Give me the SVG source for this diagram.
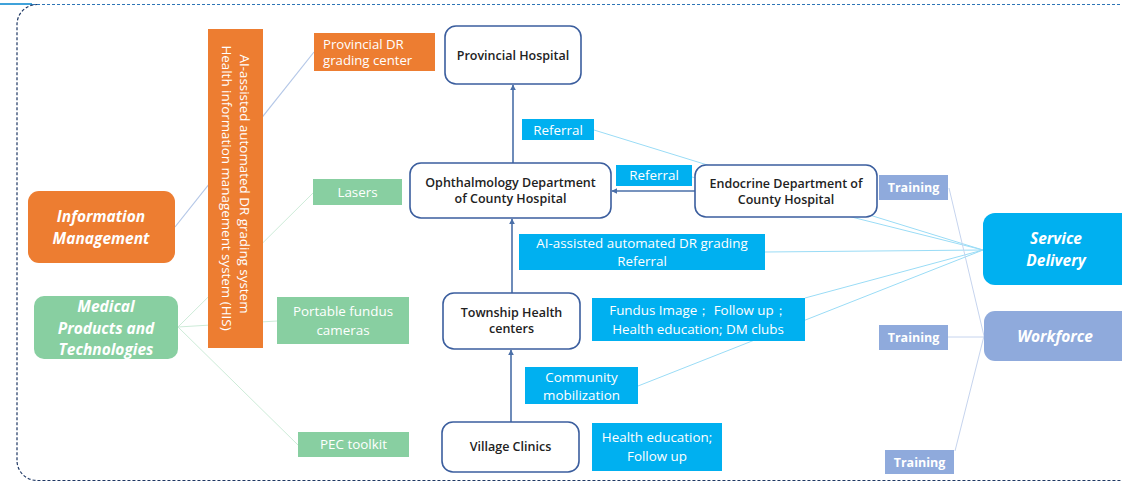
<svg xmlns="http://www.w3.org/2000/svg" width="1122" height="483" viewBox="0 0 1122 483">
<style>
text{font-family:"Open Sans","Noto Sans","Liberation Sans",sans-serif}
.node{fill:#fff;stroke:#3B5E9E;stroke-width:1.6}
.nt{font-size:12.5px;font-weight:600;fill:#222;text-anchor:middle}
.blue{fill:#00B0F0}
.orange{fill:#ED7D31}
.green{fill:#88CFA1}
.lav{fill:#8FAADC}
.wt{font-size:13.4px;fill:#fff;text-anchor:middle}
.wtl{font-size:13.2px;fill:#fff}
.tr{font-size:12.5px;fill:#fff;font-weight:700;text-anchor:middle}
.cat{font-size:15.5px;fill:#fff;font-weight:700;font-style:italic;text-anchor:middle}
.arrow{stroke:#4A6FA8;stroke-width:1.6;fill:none;marker-end:url(#ah)}
.lsd{stroke:#9ADCF6;stroke-width:1;fill:none}
.lwf{stroke:#C6D4EE;stroke-width:1;fill:none}
.lmp{stroke:#CDEBD8;stroke-width:1;fill:none}
.lim{stroke:#B4C7E7;stroke-width:1.2;fill:none}
</style>
<defs>
<marker id="ah" viewBox="0 0 10 10" refX="9" refY="5" markerWidth="6" markerHeight="6" orient="auto" markerUnits="userSpaceOnUse">
<path d="M0,0 L10,5 L0,10 z" fill="#4A6FA8"/>
</marker>
</defs>
<g id="frame">
<line x1="0" y1="4" x2="32" y2="4" stroke="#3FA2DA" stroke-width="2"/>
<rect x="17" y="4.5" width="1130" height="476" rx="20" fill="none" stroke="#1F3864" stroke-width="1.2" stroke-dasharray="3,2"/>
<line x1="32" y1="4.5" x2="1122" y2="4.5" stroke="#2E75B6" stroke-width="1" stroke-dasharray="3,2"/>
</g>
<g id="connectors">
<line class="lim" x1="175" y1="227" x2="314" y2="52"/>
<line class="lmp" x1="178" y1="327" x2="313" y2="193"/>
<line class="lmp" x1="178" y1="327" x2="277" y2="321"/>
<line class="lmp" x1="178" y1="327" x2="298" y2="445"/>
<line class="lsd" x1="983" y1="250" x2="594" y2="130"/>
<line class="lsd" x1="983" y1="250" x2="692" y2="177"/>
<line class="lsd" x1="983" y1="250" x2="765" y2="252"/>
<line class="lsd" x1="983" y1="250" x2="805" y2="298"/>
<line class="lsd" x1="983" y1="250" x2="638" y2="386"/>
<line class="lwf" x1="984" y1="336" x2="949" y2="188"/>
<line class="lwf" x1="984" y1="337" x2="948" y2="337"/>
<line class="lwf" x1="984" y1="336" x2="955" y2="451"/>
<line class="arrow" x1="513" y1="163" x2="513" y2="85"/>
<line class="arrow" x1="695" y1="191" x2="612" y2="191"/>
<line class="arrow" x1="512" y1="293" x2="512" y2="219"/>
<line class="arrow" x1="511" y1="422" x2="511" y2="350"/>
</g>
<g id="his-system">
<rect class="orange" x="208" y="29" width="55" height="319"/>
<text class="wt" transform="translate(240,184) rotate(90)">AI-assisted automated DR grading system</text>
<text class="wt" transform="translate(222,188) rotate(90)">Health information management system (HIS)</text>
</g>
<g id="provincial-dr-center">
<rect class="orange" x="314" y="33" width="121" height="38"/>
<text class="wtl" x="323" y="49">Provincial DR</text>
<text class="wtl" x="323" y="65">grading center</text>
</g>
<g id="lasers">
<rect class="green" x="313" y="179" width="89" height="26"/>
<text class="wt" x="357.5" y="197">Lasers</text>
</g>
<g id="fundus-cameras">
<rect class="green" x="277" y="297" width="132" height="47"/>
<text class="wt" x="343" y="316">Portable fundus</text>
<text class="wt" x="343" y="335">cameras</text>
</g>
<g id="pec-toolkit">
<rect class="green" x="298" y="432" width="111" height="25"/>
<text class="wt" x="353.5" y="449">PEC toolkit</text>
</g>
<g id="information-management">
<rect class="orange" x="28" y="191" width="147" height="72" rx="11"/>
<text class="cat" x="101" y="222">Information</text>
<text class="cat" x="101" y="244">Management</text>
</g>
<g id="medical-products">
<rect class="green" x="34" y="296" width="144" height="63" rx="10"/>
<text class="cat" x="106" y="312">Medical</text>
<text class="cat" x="106" y="334">Products and</text>
<text class="cat" x="106" y="355">Technologies</text>
</g>
<g id="provincial-hospital">
<rect class="node" x="445" y="26" width="136" height="58" rx="11"/>
<text class="nt" x="513" y="60">Provincial Hospital</text>
</g>
<g id="ophthalmology">
<rect class="node" x="410" y="163" width="201" height="55" rx="11"/>
<text class="nt" x="510.5" y="187">Ophthalmology Department</text>
<text class="nt" x="510.5" y="203">of County Hospital</text>
</g>
<g id="endocrine">
<rect class="node" x="695" y="165" width="182" height="52" rx="11"/>
<text class="nt" x="786" y="188">Endocrine Department of</text>
<text class="nt" x="786" y="204">County Hospital</text>
</g>
<g id="township">
<rect class="node" x="443" y="293" width="137" height="56" rx="11"/>
<text class="nt" x="511.5" y="317">Township Health</text>
<text class="nt" x="511.5" y="333">centers</text>
</g>
<g id="village">
<rect class="node" x="442" y="422" width="137" height="50" rx="11"/>
<text class="nt" x="510.5" y="451">Village Clinics</text>
</g>
<g id="referral-1">
<rect class="blue" x="522" y="119" width="72" height="21"/>
<text class="wt" x="558" y="135">Referral</text>
</g>
<g id="referral-2">
<rect class="blue" x="616" y="165" width="76" height="21"/>
<text class="wt" x="654" y="180">Referral</text>
</g>
<g id="ai-grading">
<rect class="blue" x="519" y="234" width="246" height="36"/>
<text class="wt" x="642" y="248">AI-assisted automated DR grading</text>
<text class="wt" x="642" y="266">Referral</text>
</g>
<g id="fundus-image">
<rect class="blue" x="592" y="298" width="213" height="43"/>
<text class="wt" x="698" y="315">Fundus Image；  Follow up；</text>
<text class="wt" x="698" y="334">Health education; DM clubs</text>
</g>
<g id="community">
<rect class="blue" x="525" y="367" width="113" height="37"/>
<text class="wt" x="581.5" y="382">Community</text>
<text class="wt" x="581.5" y="400">mobilization</text>
</g>
<g id="health-education">
<rect class="blue" x="592" y="423" width="130" height="48"/>
<text class="wt" x="657" y="442">Health education;</text>
<text class="wt" x="657" y="461">Follow up</text>
</g>
<g id="training-1">
<rect class="lav" x="879" y="175" width="69" height="25"/>
<text class="tr" x="913.5" y="192">Training</text>
</g>
<g id="training-2">
<rect class="lav" x="879" y="325" width="69" height="25"/>
<text class="tr" x="913.5" y="342">Training</text>
</g>
<g id="training-3">
<rect class="lav" x="885" y="450" width="69" height="24"/>
<text class="tr" x="919.5" y="467">Training</text>
</g>
<g id="service-delivery">
<rect class="blue" x="983" y="213" width="160" height="72" rx="12"/>
<text class="cat" x="1056" y="244">Service</text>
<text class="cat" x="1056" y="266">Delivery</text>
</g>
<g id="workforce">
<rect class="lav" x="984" y="311" width="160" height="50" rx="11"/>
<text class="cat" x="1055" y="342">Workforce</text>
</g>
</svg>
